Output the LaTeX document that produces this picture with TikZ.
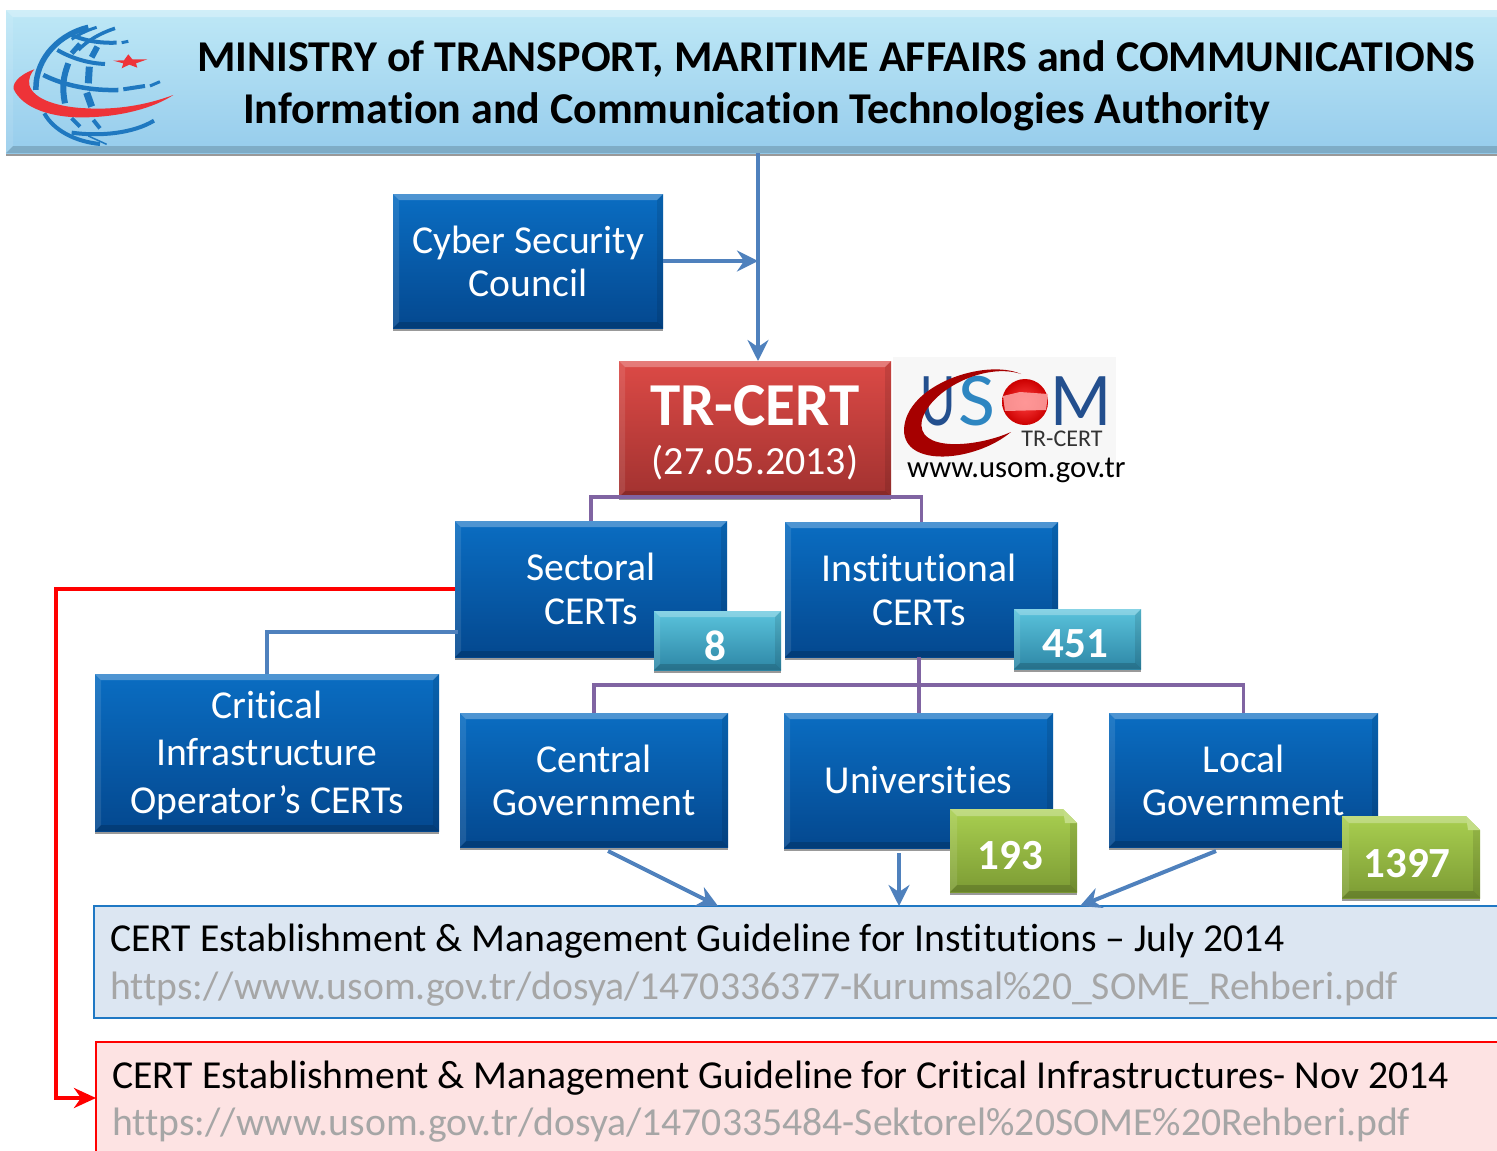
\documentclass[tikz,border=0pt]{standalone}
\usepackage{fontspec}
\setmainfont[Ligatures=NoCommon]{Carlito}
\usetikzlibrary{calc,shadows,arrows.meta,shapes.geometric}
\definecolor{bl}{HTML}{4F81BD}
\definecolor{pu}{HTML}{8064A2}
\definecolor{gl}{HTML}{1F78C4}
\newcommand{\fs}[1]{\fontsize{#1}{#1}\selectfont}
\newcommand{\lowr}[2]{\raisebox{-#1pt}[\height][0pt]{#2}}
\tikzset{
 bev/.style={draw=none,outer sep=0pt,inner sep=0pt,align=center,text=white,
   drop shadow={shadow xshift=0pt,shadow yshift=-3pt,opacity=.4,fill=black}},
 bluebox/.style={bev,top color=bluetop,bottom color=bluebot,font=\fs{39.6}},
 redbox/.style={bev,top color=redtop,bottom color=redbot},
 cyanbox/.style={bev,top color=cyantop,bottom color=cyanbot,font=\bfseries\fs{43}},
 greenbox/.style={bev,top color=greentop,bottom color=greenbot,font=\bfseries\fs{43}},
 headbox/.style={bev,top color=headtop,bottom color=headbot},
 blueline/.style={draw=bl,line width=4pt},
 purpleline/.style={draw=pu,line width=3.5pt},
 bluearrow/.style={blueline,-{Stealth[length=21pt,width=21pt,inset=7pt]}},
 guide/.style={outer sep=0pt,anchor=north west,align=left,text width=1420pt,inner xsep=16pt,inner ysep=0pt,line width=1.3pt},
 urltext/.style={text=urlg},
}
\definecolor{bluetop}{HTML}{0A6DC2}
\definecolor{bluebot}{HTML}{04488F}
\definecolor{redtop}{HTML}{DC4A46}
\definecolor{redbot}{HTML}{A23230}
\definecolor{cyantop}{HTML}{5AC3DC}
\definecolor{cyanbot}{HTML}{2E87A6}
\definecolor{greentop}{HTML}{A9CF50}
\definecolor{greenbot}{HTML}{7C9B34}
\definecolor{headtop}{HTML}{BEE8F6}
\definecolor{headbot}{HTML}{96CCEC}
\definecolor{urlg}{HTML}{A6A6A6}
\definecolor{globeb}{HTML}{1F78C0}
\definecolor{redsw}{HTML}{EE3338}
\newcommand{\bevel}[4]{%
 \fill[#3,opacity=.28] (#1.north west) -- (#1.north east) -- ($(#1.north east)+(-#2,#2)$) -- ($(#1.north west)+(#2,#2)$) -- cycle;
 \fill[#3,opacity=.10] (#1.north west) -- ($(#1.north west)+(#2,#2)$) -- ($(#1.south west)+(#2,-#2)$) -- (#1.south west) -- cycle;
 \fill[#4,opacity=.10] (#1.north east) -- ($(#1.north east)+(-#2,#2)$) -- ($(#1.south east)+(-#2,-#2)$) -- (#1.south east) -- cycle;
 \fill[#4,opacity=.16] (#1.south west) -- ($(#1.south west)+(#2,-#2)$) -- ($(#1.south east)+(-#2,-#2)$) -- (#1.south east) -- cycle;
}
\newcommand{\cbox}[7]{%
 \pgfmathsetmacro{\cw}{#5-#3}\pgfmathsetmacro{\ch}{#6-#4}%
 \node[#1,minimum width=\cw pt,minimum height=\ch pt,anchor=north west] (#2) at (#3,#4) {#7};
}
\newcommand{\snip}[2]{%
 \fill[white] ($(#1.north east)+(-#2,0)$) -- ($(#1.north east)+(2,-4)$) -- ($(#1.north east)+(2,#2)$) -- ($(#1.north east)+(0,#2)$) -- cycle;
 \fill[greentop!70!white] ($(#1.north east)+(-#2,0)$) -- ($(#1.north east)+(0,#2)$) -- ($(#1.north east)+(-#2+2,#2)$) -- cycle;
}
\begin{document}
\begin{tikzpicture}[x=1pt,y=-1pt]
\clip (0,0) rectangle (1497,1151);
% header
\cbox{headbox}{hdr}{6}{10}{1510}{153}{}
\bevel{hdr}{7}{white}{black}
\node[anchor=base west,inner sep=0,font=\bfseries\fs{44}] (h1) at (197,71) {MINISTRY of TRANSPORT, MARITIME AFFAIRS and COMMUNICATIONS};
\node[anchor=base west,inner sep=0,font=\bfseries\fs{44}] (h2) at (243,123) {Information and Communication Technologies Authority};
% globe
\begin{scope}[x=0.3333pt,y=-0.3333pt,line cap=butt]
 \draw[globeb,line width=3.5pt] (345,85) .. controls (300,100) and (265,120) .. (235,150);
 \draw[globeb,line width=3pt] (290,82) .. controls (270,88) and (240,100) .. (215,118);
 \draw[globeb,line width=5.5pt] (265,82) .. controls (185,100) and (105,170) .. (108,270);
 \draw[globeb,line width=4pt] (215,105) .. controls (260,125) and (310,130) .. (350,128);
 \draw[globeb,line width=3pt] (365,128) -- (385,124);
 \draw[globeb,line width=4pt] (172,150) .. controls (215,175) and (265,190) .. (315,192);
 \draw[globeb,line width=4.5pt] (130,225) .. controls (200,260) and (280,272) .. (355,270);
 \draw[globeb,line width=4pt] (370,268) -- (435,258);
 \draw[globeb,line width=3pt] (450,258) -- (480,245);
 \draw[globeb,line width=5pt] (240,132) -- (215,160);
 \draw[globeb,line width=6pt] (205,190) .. controls (190,230) and (185,260) .. (195,310);
 \draw[globeb,line width=6pt] (292,140) -- (275,172);
 \draw[globeb,line width=7pt] (268,200) -- (265,250);
 \draw[globeb,line width=7pt] (260,278) -- (275,320);
 \draw[globeb,line width=4pt] (215,355) -- (240,380);
 \draw[globeb,line width=4pt] (280,360) -- (300,385);
 \draw[globeb,line width=4pt] (133,340) .. controls (160,390) and (225,425) .. (300,432);
 \draw[globeb,line width=4pt] (215,398) .. controls (300,410) and (400,400) .. (462,362);
 \draw[globeb,line width=1.5pt] (265,408) -- (320,433);
 \fill[redsw] (103,208) .. controls (55,225) and (30,255) .. (45,275) .. controls (80,335) and (180,355) .. (260,352) .. controls (360,350) and (460,325) .. (520,285) .. controls (440,315) and (350,330) .. (260,325) .. controls (180,322) and (100,300) .. (88,255) .. controls (85,235) and (92,220) .. (103,208) -- cycle;
 \fill[redsw] (340,182) -- (372,181) -- (385,163) -- (397,178) -- (442,178) -- (408,190) -- (412,203) -- (388,194) -- (365,205) -- (370,190) -- cycle;
\end{scope}
% logo
\fill[black!3] (893,357) rectangle (1116,470);
\definecolor{usd}{HTML}{234F8E}
\definecolor{usl}{HTML}{2E86C1}
\node[inner sep=0,text=usd] (tu) at (938,401) {\scalebox{.72}[1]{\fs{76}U}};
\node[inner sep=0,text=usl] (ts) at (977,401) {\scalebox{1.05}[1]{\fs{76}S}};
\node[inner sep=0,text=usd] (tm) at (1081,401) {\scalebox{.94}[1]{\fs{76}M}};
\shade[inner color=red!75!white,outer color=red!80!black] (1025,402) circle (23);
\fill[red!35!white,opacity=.85] (1003,396) -- (1020,392) -- (1048,394) -- (1046,410) -- (1005,411) -- cycle;
\fill[red!65!black] (1021,374) .. controls (985,358) and (905,385) .. (904,430) .. controls (904,468) and (975,462) .. (1011,432) .. controls (975,448) and (915,452) .. (922,420) .. controls (930,390) and (985,362) .. (1021,374) -- cycle;
\node[inner sep=0,anchor=base,font=\fs{24},text=black!80] (lt) at (1062,446) {TR-CERT};
\node[inner sep=0,anchor=base west,font=\fs{30.7}] (lu) at (907,477) {www.usom.gov.tr};
% boxes
\cbox{bluebox}{csc}{393}{194}{663}{328}{Cyber Security\\[3.5pt]Council}
\bevel{csc}{6}{white}{black}
\cbox{redbox}{tr}{619}{361}{891}{497}{\rule{0pt}{48pt}\bfseries\fs{61}TR-CERT\\[18pt]\fs{40}(27.05.2013)}
\bevel{tr}{6}{white}{black}
\cbox{bluebox}{sect}{455}{521}{727}{657}{Sectoral\\[4.5pt]CERTs}
\bevel{sect}{6}{white}{black}
\cbox{bluebox}{inst}{785}{522}{1058}{657}{\hspace*{-5pt}Institutional\\[4.5pt]\hspace*{-5pt}CERTs}
\bevel{inst}{6}{white}{black}
\cbox{bluebox}{ci}{95}{674}{439}{831}{\rule{0pt}{33pt}Critical\\[8pt]Infrastructure\\[8pt]Operator’s CERTs}
\bevel{ci}{6}{white}{black}
\cbox{bluebox}{cg}{460}{713}{728}{847}{Central\\[3.5pt]Government}
\bevel{cg}{6}{white}{black}
\cbox{bluebox}{un}{784}{713}{1053}{848}{Universities}
\bevel{un}{6}{white}{black}
\cbox{bluebox}{lg}{1109}{713}{1378}{847}{Local\\[3.5pt]Government}
\bevel{lg}{6}{white}{black}
% badges
\cbox{cyanbox}{b8}{654}{611}{781}{670}{\lowr{5}{8}\hspace*{4pt}}
\bevel{b8}{6}{white}{black}
\cbox{cyanbox}{b451}{1014}{609}{1141}{669}{\lowr{5}{451}\hspace*{4pt}}
\bevel{b451}{6}{white}{black}
\cbox{greenbox}{b193}{950}{809}{1077}{892}{\lowr{5}{193}\hspace*{6pt}}
\bevel{b193}{7}{white}{black}
\snip{b193}{14}
\cbox{greenbox}{b1397}{1342}{816}{1480}{898}{\lowr{6}{1397}\hspace*{8pt}}
\bevel{b1397}{7}{white}{black}
\snip{b1397}{14}
% guideline boxes
\definecolor{g1f}{HTML}{DCE6F2}
\definecolor{g2f}{HTML}{FDE3E3}
\node[guide,draw=gl,fill=g1f,minimum height=112pt] (g1) at (94,906) {};
\node[guide,draw=red,fill=g2f,minimum height=112pt] (g2) at (96,1042) {};
\node[anchor=base west,inner sep=0,font=\fs{39.65}] (g1a) at (110,951) {CERT Establishment \& Management Guideline for Institutions – July 2014};
\node[anchor=base west,inner sep=0,font=\fs{39.65},urltext] (g1b) at (110,999) {https://www.usom.gov.tr/dosya/1470336377-Kurumsal\%20\_SOME\_Rehberi.pdf};
\node[anchor=base west,inner sep=0,font=\fs{39.65}] (g2a) at (112,1088) {CERT Establishment \& Management Guideline for Critical Infrastructures- Nov 2014};
\node[anchor=base west,inner sep=0,font=\fs{39.65},urltext] (g2b) at (112,1135) {https://www.usom.gov.tr/dosya/1470335484-Sektorel\%20SOME\%20Rehberi.pdf};
% connectors
\coordinate (j) at (758,0);
\draw[bluearrow] (hdr.south -| j) -- (tr.north -| j);
\draw[bluearrow] (csc.east) -- (csc.east -| j);
\draw[purpleline] (sect.north) |- (tr.south) -| (inst.north);
\coordinate (s1) at (458,632);
\draw[blueline] (s1) -| (ci.north);
\coordinate (r1) at (455,589);
\coordinate (r2) at (56,589);
\draw[draw=red,line width=4pt,-{Stealth[length=22pt,width=20pt,inset=7pt]}] (r1) -- (r2) |- (g2.west);
\coordinate (p) at (919,685);
\draw[purpleline] (inst.south -| p) -- (un.north -| p);
\draw[purpleline] (cg.north) |- (p) -| (lg.north);
\coordinate (a1) at (608,851); \coordinate (a1e) at (718,906);
\coordinate (a2) at (899,853); \coordinate (a2e) at (899,906);
\coordinate (a3) at (1216,851); \coordinate (a3e) at (1080,906);
\draw[bluearrow] (a1) -- (a1e);
\draw[bluearrow] (a2) -- (a2e);
\draw[bluearrow] (a3) -- (a3e);
\end{tikzpicture}
\end{document}
